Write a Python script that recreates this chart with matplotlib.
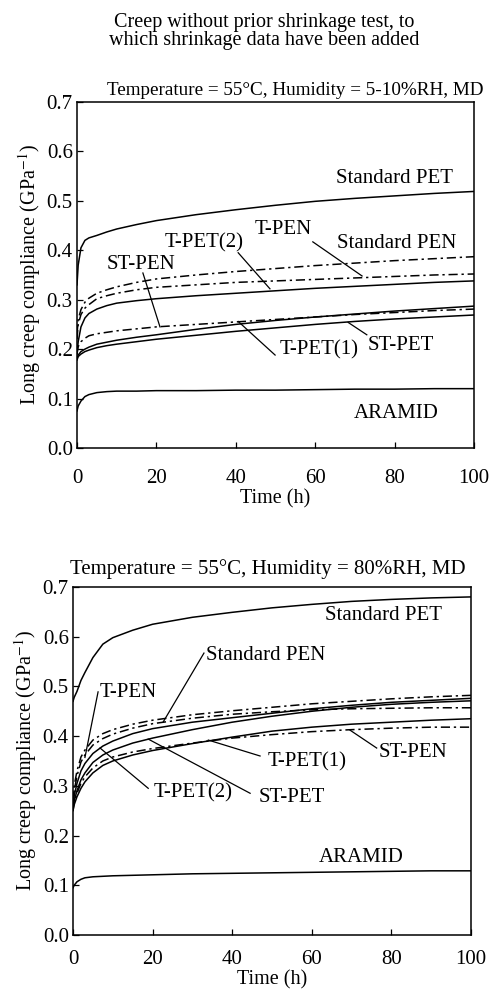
import numpy as np
import matplotlib
matplotlib.use('Agg')
import matplotlib.pyplot as plt

plt.rcParams['font.family'] = ['Liberation Serif', 'DejaVu Serif']
plt.rcParams['mathtext.fontset'] = 'stix'

# Temps de lecture (h)
temps = [0, 0.3, 1, 2, 3, 5, 7.5, 10, 15, 20, 30, 40, 50, 60, 70, 80, 90, 100]

# Panneau haut : 55°C, 5-10%RH
haut_std_pet = [0.33, 0.37, 0.405, 0.42, 0.425, 0.43, 0.437, 0.443, 0.452, 0.46, 0.472, 0.482, 0.491, 0.499, 0.505, 0.51, 0.515, 0.519]
haut_std_pen = [0.23, 0.26, 0.28, 0.295, 0.303, 0.313, 0.32, 0.326, 0.335, 0.342, 0.35, 0.357, 0.363, 0.369, 0.374, 0.379, 0.383, 0.387]
haut_t_pen = [0.22, 0.25, 0.27, 0.283, 0.29, 0.302, 0.308, 0.313, 0.32, 0.325, 0.33, 0.335, 0.338, 0.341, 0.344, 0.347, 0.35, 0.352]
haut_t_pet2 = [0.19, 0.215, 0.245, 0.263, 0.272, 0.281, 0.288, 0.293, 0.298, 0.302, 0.308, 0.313, 0.318, 0.323, 0.327, 0.331, 0.335, 0.338]
haut_st_pen = [0.19, 0.205, 0.215, 0.222, 0.227, 0.231, 0.234, 0.237, 0.241, 0.245, 0.25, 0.255, 0.26, 0.265, 0.27, 0.274, 0.278, 0.281]
haut_t_pet1 = [0.18, 0.188, 0.195, 0.2, 0.204, 0.21, 0.214, 0.218, 0.224, 0.229, 0.24, 0.25, 0.258, 0.265, 0.271, 0.277, 0.282, 0.287]
haut_st_pet = [0.178, 0.185, 0.19, 0.195, 0.198, 0.203, 0.207, 0.21, 0.215, 0.22, 0.228, 0.236, 0.243, 0.25, 0.256, 0.261, 0.265, 0.269]
haut_aramid = [0.075, 0.085, 0.095, 0.104, 0.108, 0.112, 0.114, 0.115, 0.115, 0.116, 0.116, 0.117, 0.117, 0.118, 0.119, 0.119, 0.12, 0.12]

# Panneau bas : 55°C, 80%RH
bas_std_pet = [0.47, 0.478, 0.49, 0.512, 0.528, 0.558, 0.585, 0.598, 0.613, 0.625, 0.639, 0.649, 0.658, 0.665, 0.671, 0.675, 0.678, 0.68]
bas_std_pen = [0.27, 0.3, 0.33, 0.358, 0.372, 0.392, 0.405, 0.413, 0.424, 0.432, 0.443, 0.451, 0.458, 0.465, 0.47, 0.475, 0.479, 0.482]
bas_t_pen = [0.26, 0.29, 0.32, 0.348, 0.362, 0.382, 0.395, 0.404, 0.416, 0.425, 0.436, 0.444, 0.449, 0.453, 0.455, 0.456, 0.457, 0.457]
bas_t_pet2 = [0.26, 0.28, 0.305, 0.33, 0.345, 0.365, 0.38, 0.39, 0.405, 0.415, 0.428, 0.437, 0.446, 0.455, 0.462, 0.468, 0.472, 0.476]
bas_st_pet = [0.255, 0.27, 0.29, 0.312, 0.326, 0.347, 0.362, 0.372, 0.386, 0.396, 0.413, 0.428, 0.44, 0.45, 0.458, 0.464, 0.468, 0.471]
bas_t_pet1 = [0.25, 0.262, 0.278, 0.295, 0.308, 0.326, 0.341, 0.35, 0.362, 0.371, 0.385, 0.398, 0.41, 0.418, 0.424, 0.428, 0.432, 0.435]
bas_st_pen = [0.25, 0.268, 0.285, 0.305, 0.318, 0.336, 0.35, 0.358, 0.368, 0.375, 0.386, 0.396, 0.403, 0.409, 0.413, 0.416, 0.418, 0.418]
bas_aramid = [0.095, 0.1, 0.107, 0.112, 0.115, 0.117, 0.118, 0.119, 0.12, 0.121, 0.123, 0.124, 0.125, 0.126, 0.127, 0.128, 0.129, 0.129]

trait_plein = '-'
trait_mixte = (0, (6, 2.5, 1.5, 2.5))

courbes_haut = [
    (haut_std_pet, trait_plein), (haut_std_pen, trait_mixte), (haut_t_pen, trait_mixte),
    (haut_t_pet2, trait_plein), (haut_st_pen, trait_mixte), (haut_t_pet1, trait_plein),
    (haut_st_pet, trait_plein), (haut_aramid, trait_plein)]
courbes_bas = [
    (bas_std_pet, trait_plein), (bas_std_pen, trait_mixte), (bas_t_pen, trait_mixte),
    (bas_t_pet2, trait_plein), (bas_st_pet, trait_plein), (bas_t_pet1, trait_plein),
    (bas_st_pen, trait_mixte), (bas_aramid, trait_plein)]

# Etiquettes : texte, position (t, y)
etiq_haut = [('Standard PET', 80, 0.546), ('T-PEN', 52, 0.441), ('Standard PEN', 80.5, 0.413),
             ('T-PET(2)', 32, 0.415), ('ST-PEN', 16, 0.372), ('T-PET(1)', 61, 0.198),
             ('ST-PET', 81.5, 0.207), ('ARAMID', 80.5, 0.07)]
etiq_bas = [('Standard PET', 78, 0.642), ('Standard PEN', 48.5, 0.563), ('T-PEN', 14, 0.487),
            ('ST-PEN', 85.5, 0.367), ('T-PET(1)', 58.8, 0.349), ('T-PET(2)', 30.2, 0.285),
            ('ST-PET', 55, 0.276), ('ARAMID', 72.4, 0.155)]

# Traits de rappel : (t1, y1, t2, y2)
rappels_haut = [(59.4, 0.417, 71.8, 0.348), (40.6, 0.395, 48.6, 0.322), (16.6, 0.354, 20.9, 0.245),
                (49.9, 0.188, 40.6, 0.256), (73, 0.229, 68.3, 0.254)]
rappels_bas = [(32.9, 0.567, 22.7, 0.429), (6.3, 0.489, 3, 0.357), (18.9, 0.295, 6.8, 0.376),
               (44.5, 0.285, 18.9, 0.394), (47, 0.36, 34, 0.392), (76.3, 0.376, 69.6, 0.412)]

fig = plt.figure(figsize=(4.99, 9.9), dpi=100)
fig.text(0.530, 0.987, 'Creep without prior shrinkage test, to\nwhich shrinkage data have been added',
         ha='center', va='top', fontsize=14.5, linespacing=0.95)

ax1 = fig.add_axes([0.1543, 0.5475, 0.7956, 0.3495])
ax2 = fig.add_axes([0.1463, 0.0556, 0.7976, 0.3515])

def tracer(ax, courbes, etiq, rappels, titre, x_titre, taille_titre, pad_titre, pad_x, pad_lab):
    for valeurs, style in courbes:
        ax.plot(temps, valeurs, color='k', lw=1.1, linestyle=style)
    for texte, t, y in etiq:
        ax.text(t, y, texte, ha='center', va='center', fontsize=15)
    for t1, y1, t2, y2 in rappels:
        ax.plot([t1, t2], [y1, y2], color='k', lw=0.9)
    ax.set_xlim(0, 100)
    ax.set_ylim(0, 0.7)
    ax.set_xticks(np.arange(0, 101, 20))
    ax.set_yticks(np.arange(0, 0.71, 0.1))
    ax.set_yticklabels(['%.1f' % v for v in np.arange(0, 0.71, 0.1)])
    ax.tick_params(direction='in', labelsize=15, length=4, width=0.9)
    ax.tick_params(axis='x', pad=pad_x)
    ax.tick_params(axis='y', pad=3)
    for s in ax.spines.values():
        s.set_linewidth(1.1)
    ax.set_xlabel('Time (h)', fontsize=14.5, labelpad=pad_lab)
    ax.set_ylabel('Long creep compliance (GPa$^{-1}$)', fontsize=14.5, labelpad=3)
    ax.set_title(titre, fontsize=taille_titre, pad=pad_titre, x=x_titre)

tracer(ax1, courbes_haut, etiq_haut, rappels_haut, 'Temperature = 55°C, Humidity = 5-10%RH, MD', 0.55, 13.8, 5, 15, 1)
tracer(ax2, courbes_bas, etiq_bas, rappels_bas, 'Temperature = 55°C, Humidity = 80%RH, MD', 0.49, 15, 9, 11, 1)

fig.savefig('out.png', dpi=100)
